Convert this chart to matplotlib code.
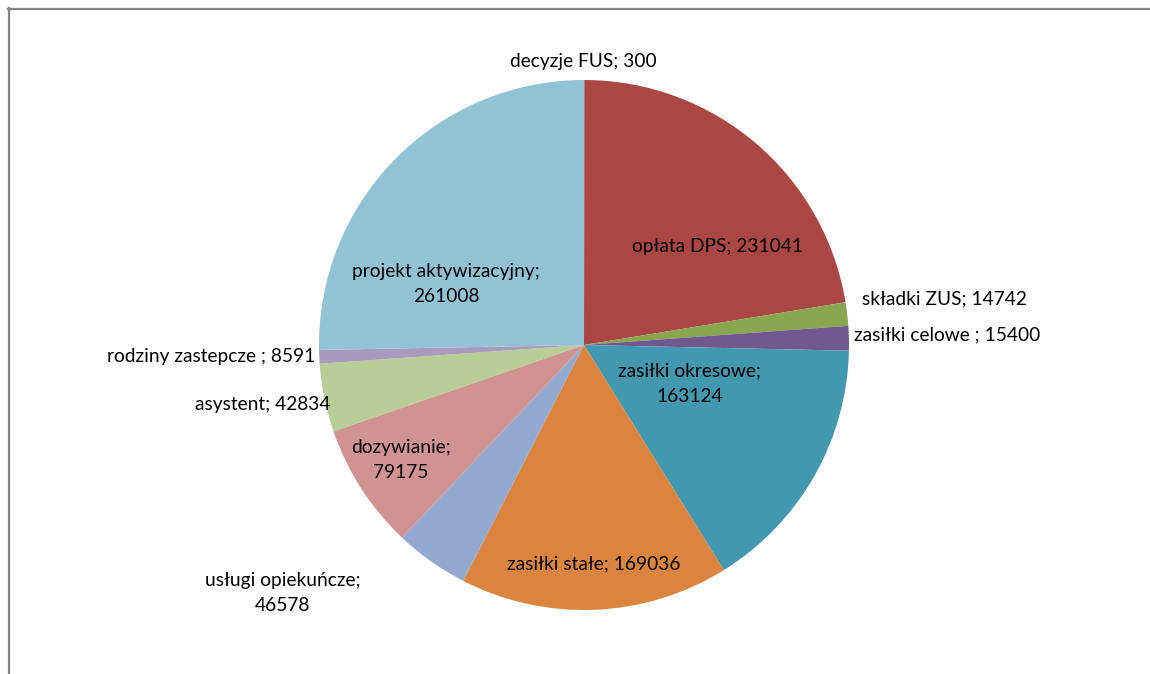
import matplotlib
matplotlib.use('Agg')
import matplotlib.pyplot as plt
from matplotlib.lines import Line2D

labels = ['decyzje FUS', 'opłata DPS', 'składki ZUS', 'zasiłki celowe ',
          'zasiłki okresowe', 'zasiłki stałe', 'usługi opiekuńcze',
          'dozywianie', 'asystent', 'rodziny zastepcze ', 'projekt aktywizacyjny']
values = [300, 231041, 14742, 15400, 163124, 169036, 46578, 79175, 42834, 8591, 261008]
colors = ['#4572A7', '#AA4644', '#89A54E', '#71588F', '#4198AF', '#DB843D',
          '#93A9CF', '#D19392', '#B9CD96', '#A99BBD', '#92C3D4']

# label anchors in pie units (radius = 1), with alignment and line breaks
label_pos = [(-0.004, 1.068, 'center'), (0.502, 0.370, 'center'), (1.049, 0.174, 'left'),
             (1.019, 0.038, 'left'), (0.400, -0.147, 'center'), (0.038, -0.826, 'center'),
             (-1.136, -0.936, 'center'), (-0.691, -0.434, 'center'), (-0.958, -0.223, 'right'),
             (-1.015, -0.045, 'right'), (-0.521, 0.230, 'center')]
wrapped = [False, False, False, False, True, False, True, True, False, False, True]

W, H = 1150, 674
cx, cy, r = 584, 345, 265

fig = plt.figure(figsize=(W / 100, H / 100), dpi=100)
ax = fig.add_axes([0, 0, 1, 1])
ax.pie(values, colors=colors, startangle=90, counterclock=False,
       wedgeprops=dict(linewidth=0))
ax.set_xlim(-cx / r, (W - cx) / r)
ax.set_ylim((cy - H) / r, cy / r)
ax.axis('off')

for lab, val, (x, y, ha), wr in zip(labels, values, label_pos, wrapped):
    sep = ';\n' if wr else '; '
    ax.text(x, y, lab + sep + str(val), ha=ha, va='center', fontsize=13.8,
            family='Lato', color='black', linespacing=1.6)

# frame lines on top and left like the source screenshot
fig.add_artist(Line2D([8.5 / W, 8.5 / W], [0, 1 - 8 / H], color='#858585', lw=1.6,
                      transform=fig.transFigure))
fig.add_artist(Line2D([8 / W, 1], [1 - 8.5 / H, 1 - 8.5 / H], color='#858585', lw=1.6,
                      transform=fig.transFigure))

fig.savefig('out.png', dpi=100)
